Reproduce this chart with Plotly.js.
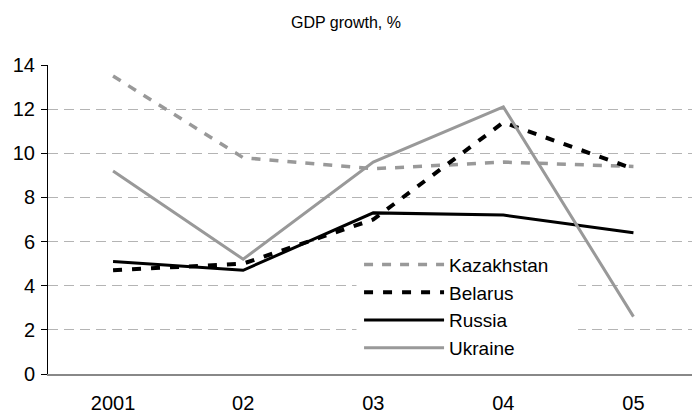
<!DOCTYPE html>
<html>
<head>
<meta charset="utf-8">
<script src="https://cdn.plot.ly/plotly-3.0.1.min.js"></script>
<style>html,body{margin:0;padding:0;background:#fff;overflow:hidden}</style>
</head>
<body>
<div id="chart" style="width:692px;height:415px"></div>
<script>
var years = ['2001', '02', '03', '04', '05'];
var kazakhstan = [13.5, 9.8, 9.3, 9.6, 9.4];
var belarus = [4.7, 5.0, 7.0, 11.4, 9.3];
var russia = [5.1, 4.7, 7.3, 7.2, 6.4];
var ukraine = [9.2, 5.2, 9.6, 12.1, 2.6];
var yTicks = [0, 2, 4, 6, 8, 10, 12, 14];

var gray = '#999999';
var traces = [
  {x: years, y: kazakhstan, name: 'Kazakhstan', type: 'scatter', mode: 'lines',
   line: {color: gray, width: 3.5, dash: '9px,9px'}},
  {x: years, y: belarus, name: 'Belarus', type: 'scatter', mode: 'lines',
   line: {color: '#000000', width: 4, dash: '9px,10px'}},
  {x: years, y: russia, name: 'Russia', type: 'scatter', mode: 'lines',
   line: {color: '#000000', width: 3}},
  {x: years, y: ukraine, name: 'Ukraine', type: 'scatter', mode: 'lines',
   line: {color: gray, width: 3}}
];

var layout = {
  width: 692, height: 415,
  margin: {l: 48, r: 0, t: 65, b: 41},
  paper_bgcolor: '#ffffff', plot_bgcolor: '#ffffff',
  font: {family: 'Liberation Sans, Arial, sans-serif', color: '#000000'},
  title: {text: 'GDP growth, %', font: {size: 16, color: '#000'}, x: 0.5, xanchor: 'center', y: 0.945, yanchor: 'middle', yref: 'container'},
  showlegend: true,
  legend: {x: 0.483, xanchor: 'left', y: 0.415, yanchor: 'top',
    bgcolor: 'rgba(0,0,0,0)', borderwidth: 0, font: {size: 19, color: '#000'},
    itemwidth: 80, tracegroupgap: 0},
  shapes: [{type: 'rect', xref: 'paper', yref: 'paper', layer: 'above',
    x0: 0.479, x1: 0.823, y0: 0.04, y1: 0.40,
    fillcolor: '#ffffff', line: {width: 0}}],
  xaxis: {type: 'category', range: [-0.5, 4.45], showgrid: false, zeroline: false,
    showline: true, linecolor: '#888888', linewidth: 2, ticks: '',
    ticklabelstandoff: 10,
    tickfont: {size: 20, color: '#000'}, fixedrange: true},
  yaxis: {range: [0, 14], tickvals: yTicks, ticktext: yTicks.map(String),
    showgrid: true, gridcolor: '#b4b4b4', gridwidth: 1, griddash: '10px,6px',
    zeroline: false, showline: true, linecolor: '#000000', linewidth: 1,
    ticks: 'outside', ticklen: 6, tickcolor: '#000', tickwidth: 1,
    ticklabelstandoff: 2,
    tickfont: {size: 20, color: '#000'}, fixedrange: true}
};

Plotly.newPlot('chart', traces, layout, {displayModeBar: false, staticPlot: true});
</script>
</body>
</html>
